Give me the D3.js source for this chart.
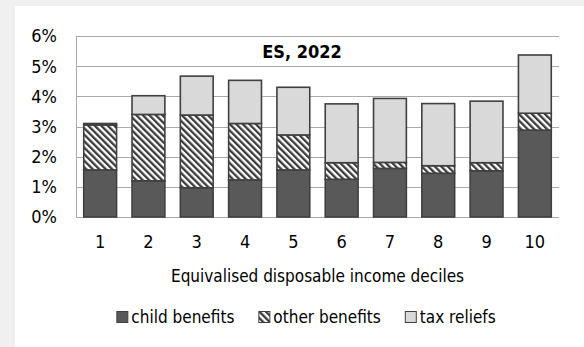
<!DOCTYPE html>
<html>
<head>
<meta charset="utf-8">
<script src="https://cdn.jsdelivr.net/npm/d3@7"></script>
<style>
  body { margin: 0; background: #f0f0f0; }
  svg { display: block; }
  text { font-family: "DejaVu Sans Condensed", "DejaVu Sans", sans-serif; font-stretch: condensed; fill: #000; }
</style>
</head>
<body>
<script>
var deciles = ["1", "2", "3", "4", "5", "6", "7", "8", "9", "10"];
var childBenefits = [1.56, 1.20, 0.97, 1.23, 1.56, 1.25, 1.61, 1.45, 1.53, 2.88];
var otherBenefits = [1.49, 2.20, 2.41, 1.87, 1.16, 0.55, 0.20, 0.25, 0.27, 0.56];
var taxReliefs = [0.05, 0.62, 1.29, 1.43, 1.58, 1.95, 2.12, 2.06, 2.04, 1.93];
var seriesNames = ["child benefits", "other benefits", "tax reliefs"];
var yTicks = [0, 1, 2, 3, 4, 5, 6];

var w = 584;
var h = 347;
var plotLeft = 76, plotRight = 559, plotTop = 36, plotBottom = 217;

var svg = d3.select("body")
    .append("svg")
    .attr("width", w)
    .attr("height", h);

// white panel
svg.append("rect")
    .attr("x", 15)
    .attr("y", 6)
    .attr("width", w - 15)
    .attr("height", h - 6)
    .attr("fill", "#fff");

var defs = svg.append("defs");
var pat = defs.append("pattern")
    .attr("id", "hatch")
    .attr("patternUnits", "userSpaceOnUse")
    .attr("width", 4.6)
    .attr("height", 4.6)
    .attr("patternTransform", "rotate(-45)");
pat.append("rect")
    .attr("width", 4.6)
    .attr("height", 4.6)
    .attr("fill", "#fff");
pat.append("rect")
    .attr("width", 2.3)
    .attr("height", 4.6)
    .attr("fill", "#3a3a3a");

var fills = ["#595959", "url(#hatch)", "#d9d9d9"];

var xScale = d3.scaleBand()
    .domain(deciles)
    .range([plotLeft, plotRight])
    .paddingInner(0.32)
    .paddingOuter(0.16);

var yScale = d3.scaleLinear()
    .domain([0, 6])
    .range([plotBottom, plotTop]);

// grid lines
svg.append("g")
    .selectAll("line")
    .data(yTicks)
    .enter()
    .append("line")
    .attr("x1", plotLeft)
    .attr("x2", plotRight)
    .attr("y1", function(d) { return Math.round(yScale(d)) + 0.5; })
    .attr("y2", function(d) { return Math.round(yScale(d)) + 0.5; })
    .attr("stroke", "#ababab")
    .attr("stroke-width", 1);

svg.append("line")
    .attr("x1", plotLeft + 0.5)
    .attr("x2", plotLeft + 0.5)
    .attr("y1", plotTop)
    .attr("y2", plotBottom + 1)
    .attr("stroke", "#ababab")
    .attr("stroke-width", 1);

// y labels
svg.append("g")
    .selectAll("text")
    .data(yTicks)
    .enter()
    .append("text")
    .attr("x", 57)
    .attr("y", function(d) { return yScale(d); })
    .attr("dy", "0.36em")
    .attr("text-anchor", "end")
    .attr("font-size", "18px")
    .text(function(d) { return d + "%"; });

// stacked bars
var stackData = deciles.map(function(d, i) {
    return { decile: d, s0: childBenefits[i], s1: otherBenefits[i], s2: taxReliefs[i] };
});
var stack = d3.stack().keys(["s0", "s1", "s2"]);
var layers = stack(stackData);

svg.append("g")
    .selectAll("g")
    .data(layers)
    .enter()
    .append("g")
    .attr("fill", function(d, i) { return fills[i]; })
    .selectAll("rect")
    .data(function(d) { return d; })
    .enter()
    .append("rect")
    .attr("x", function(d) { return xScale(d.data.decile); })
    .attr("y", function(d) { return yScale(d[1]); })
    .attr("width", xScale.bandwidth())
    .attr("height", function(d) { return yScale(d[0]) - yScale(d[1]); })
    .attr("stroke", "#404040")
    .attr("stroke-width", 1.6);

// x labels
svg.append("g")
    .selectAll("text")
    .data(deciles)
    .enter()
    .append("text")
    .attr("x", function(d) { return xScale(d) + xScale.bandwidth() / 2; })
    .attr("y", 248)
    .attr("text-anchor", "middle")
    .attr("font-size", "18px")
    .text(function(d) { return d; });

svg.append("text")
    .attr("x", (plotLeft + plotRight) / 2)
    .attr("y", 282)
    .attr("text-anchor", "middle")
    .attr("font-size", "17px")
    .text("Equivalised disposable income deciles");

// title
svg.append("text")
    .attr("x", 302)
    .attr("y", 58)
    .attr("text-anchor", "middle")
    .attr("font-size", "18px")
    .attr("font-weight", "bold")
    .text("ES, 2022");

// legend
var legend = svg.append("g");
var xPos = 0;
seriesNames.forEach(function(name, i) {
    var item = legend.append("g").attr("transform", "translate(" + xPos + ",0)");
    item.append("rect")
        .attr("x", 0.5)
        .attr("y", 311.5)
        .attr("width", 11)
        .attr("height", 11)
        .attr("fill", fills[i])
        .attr("stroke", "#404040")
        .attr("stroke-width", 1);
    var t = item.append("text")
        .attr("x", 15)
        .attr("y", 323)
        .attr("font-size", "17px")
        .text(name);
    xPos += 15 + t.node().getComputedTextLength() + 24;
});
var legW = xPos - 24;
legend.attr("transform", "translate(" + (306 - legW / 2) + ",0)");
</script>
</body>
</html>
